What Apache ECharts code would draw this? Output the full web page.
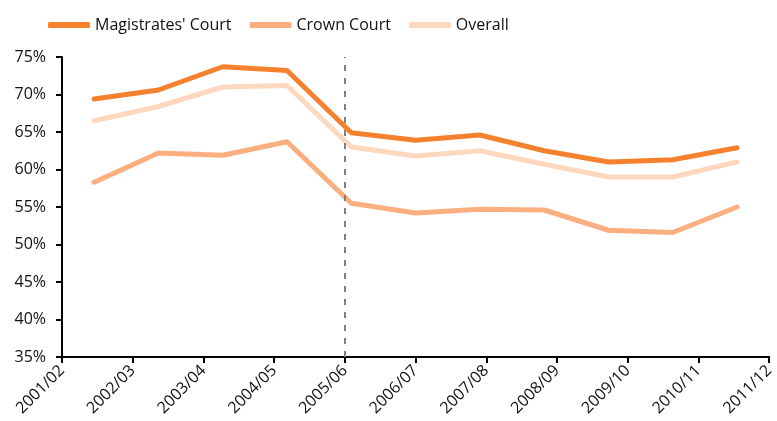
<!DOCTYPE html>
<html>
<head>
<meta charset="utf-8">
<script src="https://cdn.jsdelivr.net/npm/echarts@6/dist/echarts.min.js"></script>
<style>
  html, body { margin: 0; padding: 0; background: #fff; }
  #chart { width: 777px; height: 421px; }
</style>
</head>
<body>
<div id="chart"></div>
<script>
var years = ["2001/02", "2002/03", "2003/04", "2004/05", "2005/06", "2006/07",
  "2007/08", "2008/09", "2009/10", "2010/11", "2011/12"];
var magistrates = [69.4, 70.6, 73.7, 73.2, 64.9, 63.9, 64.6, 62.5, 61.0, 61.3, 62.9];
var crown = [58.3, 62.2, 61.9, 63.7, 55.5, 54.2, 54.7, 54.6, 51.9, 51.6, 55.0];
var overall = [66.5, 68.4, 71.0, 71.2, 63.0, 61.8, 62.5, 60.7, 59.0, 59.0, 61.0];
var breakYear = "2005/06";

var font = "Open Sans";
var chart = echarts.init(document.getElementById("chart"));

function lineSeries(name, data, color, z) {
  return {
    name: name,
    type: "line",
    xAxisIndex: 0,
    data: data,
    symbol: "none",
    z: z,
    lineStyle: { color: color, width: 5, cap: "round", join: "round" },
    itemStyle: { color: color }
  };
}

chart.setOption({
  animation: false,
  textStyle: { fontFamily: font },
  legend: {
    data: ["Magistrates' Court", "Crown Court", "Overall"],
    left: 43,
    top: 12,
    icon: "roundRect",
    itemWidth: 42,
    itemHeight: 6,
    itemGap: 18,
    textStyle: { fontFamily: font, fontSize: 16, color: "#111" }
  },
  grid: { left: 62, right: 6, top: 57, bottom: 64 },
  xAxis: [
    {
      type: "category",
      data: years,
      boundaryGap: true,
      show: false
    },
    {
      type: "category",
      data: years,
      boundaryGap: false,
      position: "bottom",
      axisLine: { lineStyle: { color: "#000", width: 2 } },
      axisTick: { length: 6, lineStyle: { color: "#000", width: 2 } },
      axisLabel: { rotate: 45, fontSize: 16, color: "#111", margin: 11, fontFamily: font },
      splitLine: { show: false }
    }
  ],
  yAxis: {
    type: "value",
    min: 35,
    max: 75,
    interval: 5,
    axisLine: { show: true, lineStyle: { color: "#000", width: 2 } },
    axisTick: { show: true, length: 6, lineStyle: { color: "#000", width: 2 } },
    axisLabel: { formatter: "{value}%", fontSize: 16, color: "#111", margin: 16, fontFamily: font },
    splitLine: { show: false }
  },
  series: [
    lineSeries("Overall", overall, "#FDD8BE", 2),
    lineSeries("Crown Court", crown, "#FBAF80", 3),
    lineSeries("Magistrates' Court", magistrates, "#F5812F", 4),
    {
      name: "break",
      type: "line",
      xAxisIndex: 1,
      data: [],
      z: 1,
      markLine: {
        silent: true,
        symbol: "none",
        label: { show: false },
        lineStyle: { color: "#808080", type: [6, 7], width: 2 },
        data: [{ xAxis: breakYear }]
      }
    }
  ]
});
</script>
</body>
</html>
